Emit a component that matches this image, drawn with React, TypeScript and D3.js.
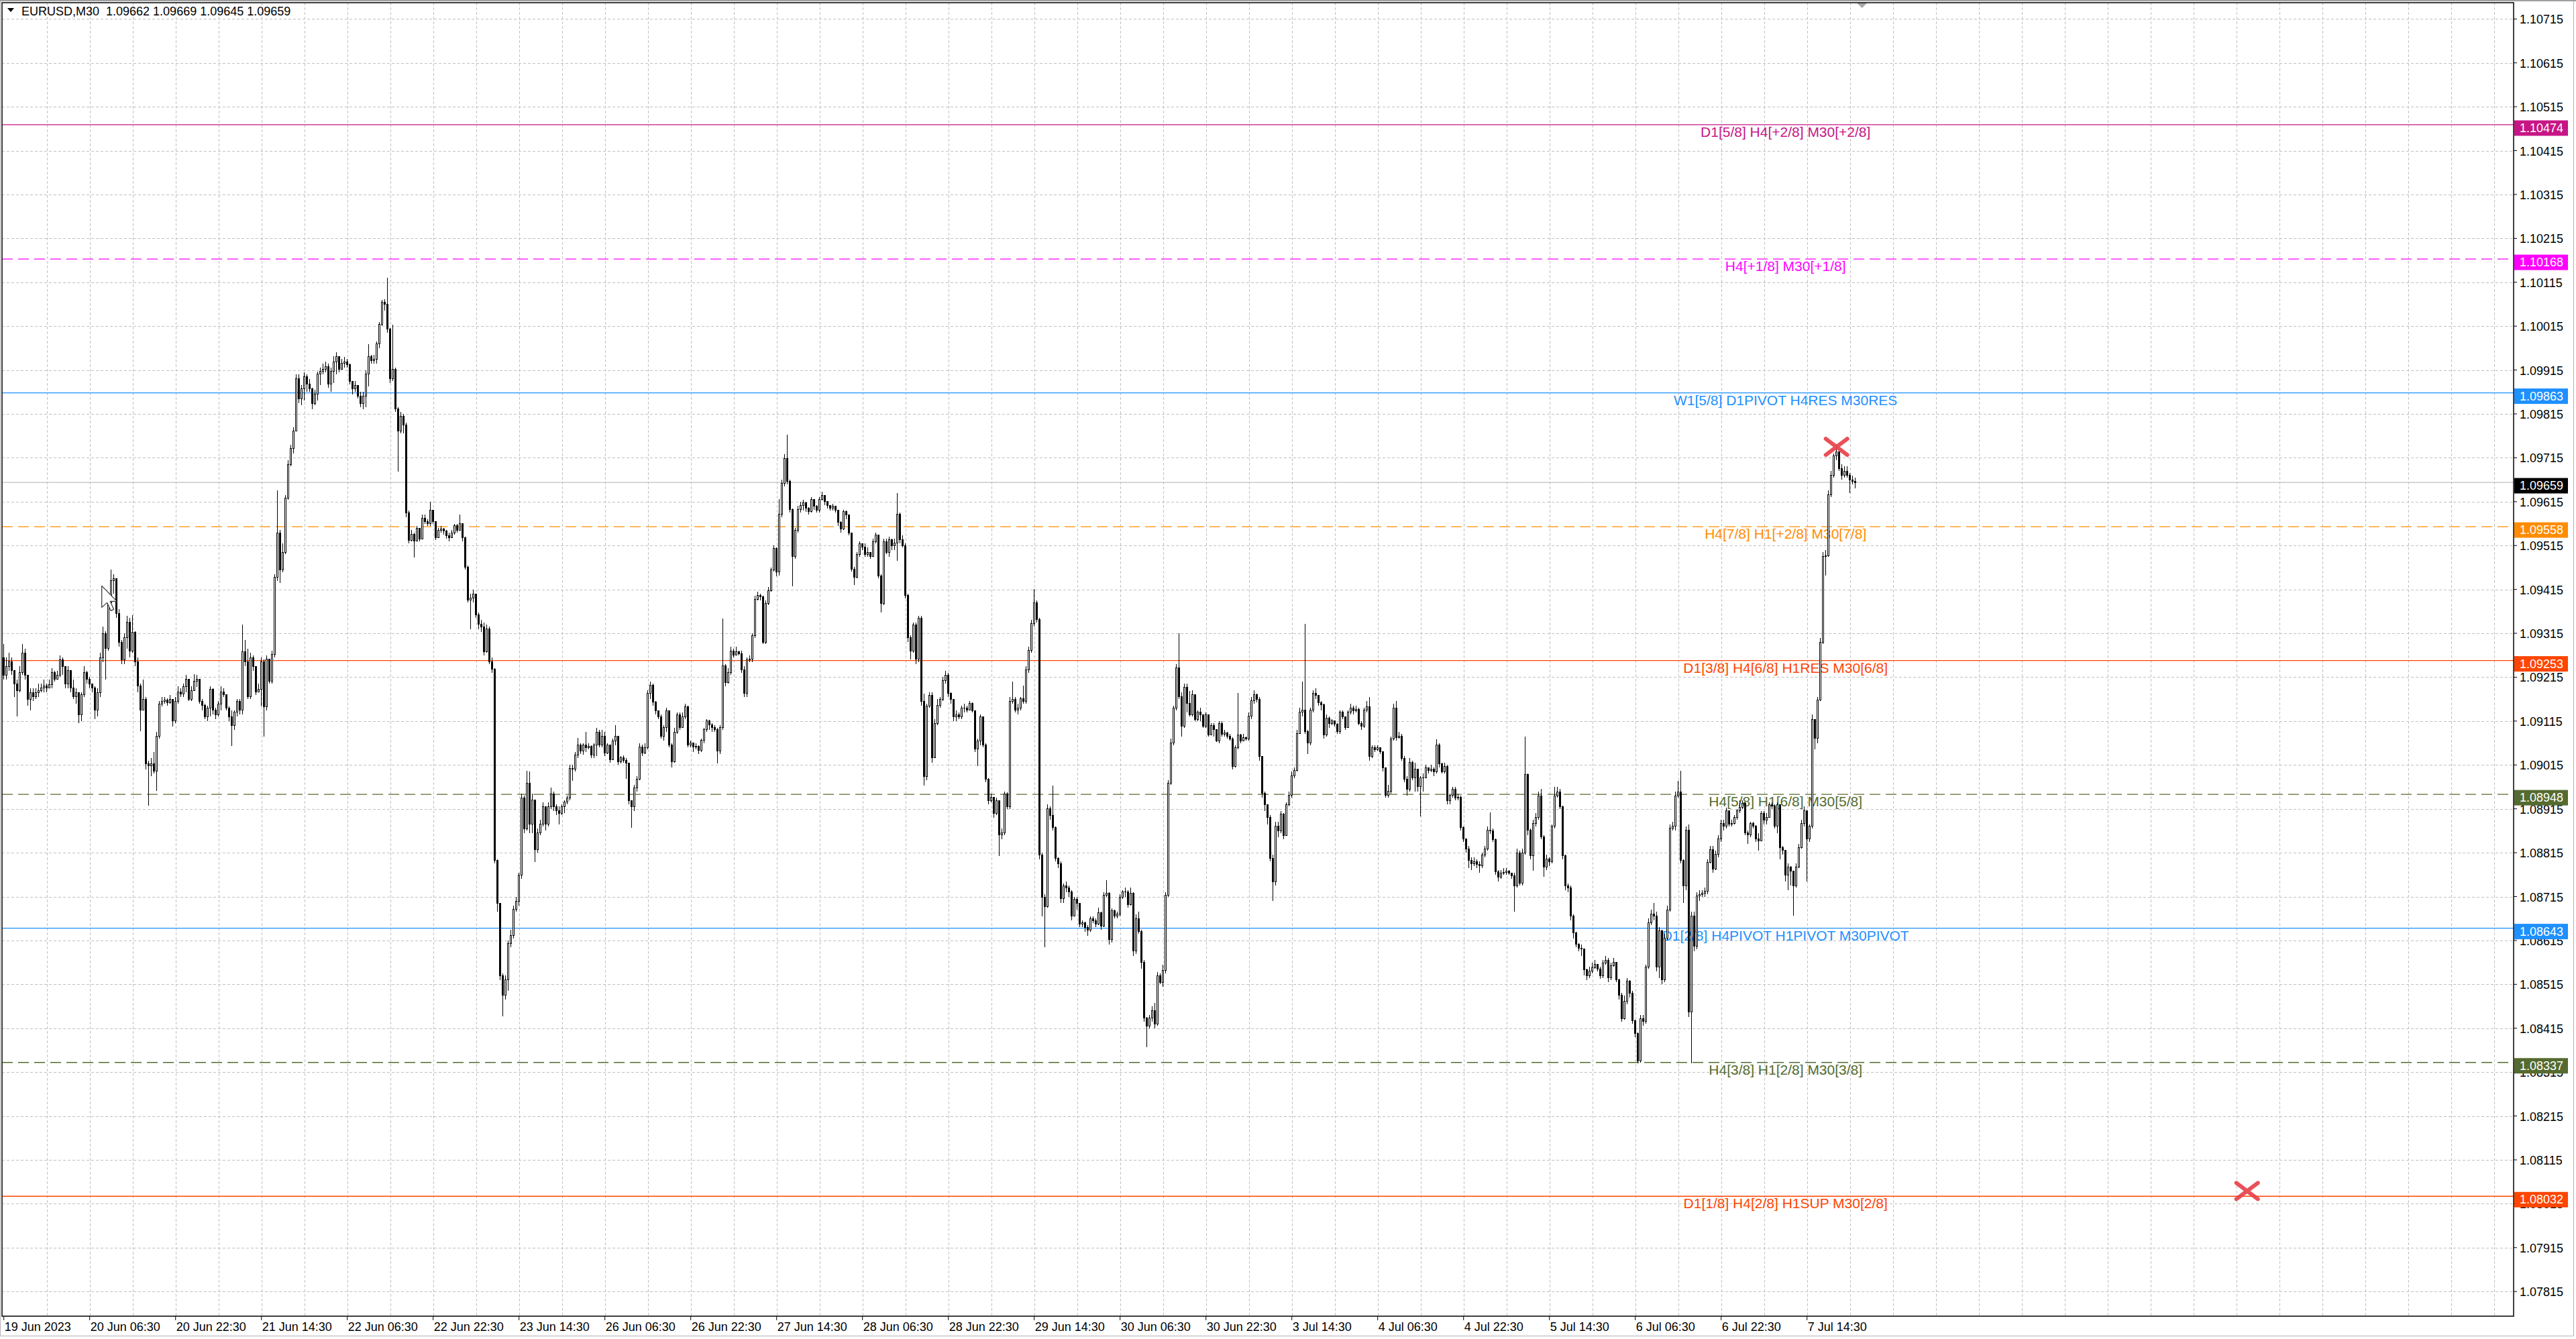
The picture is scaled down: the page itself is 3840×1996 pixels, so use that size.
import React from 'react';
import * as d3 from 'd3';

// ---------- DATA (prices in pips above 1.08000) ----------
const BASE = 1.08;
const OPEN0 = 126;
const CLOSE = [
122,124,125,123,120,118.5,122.5,127,122,116.5,
118,117,118,118.5,119,119.5,119,119.8,122.5,121,
122,125.5,124,120,123,119,117,118,113,117.5,
122.5,121,120,119,114,118,126,131.5,128,138.5,
143.5,144,136,129.5,125.5,130.5,134,127.5,131.8,125,
119.5,114,116.5,101.8,101.3,101.8,100.1,108,115.4,116,
116.3,115.7,116.5,111.5,116,118.2,117.6,119.3,121,116.5,
118.5,120.5,121,116,115,112.5,114.5,118.8,114,113,
115.4,118.2,117.5,114.5,112.5,110.5,113.5,116,114,127.3,
125,117,126,124,118.2,118.8,125,114.8,125.6,120.5,
126.7,144.2,154.4,146,150,162.3,170,173.6,177.6,189.5,
185,187.2,190,188.3,187.2,183.8,186,190.6,191.2,191.7,
192.3,188.3,191.2,193.4,194.6,191.7,193,193.4,192.8,188.9,
187.2,188,185.5,183.8,185.5,190.6,194.6,193.6,194,197.4,
201.9,207,206.5,200.8,189.5,191.7,182.7,177.6,181,179,
158.9,152.7,154,152.5,155.5,153,157.8,157,156.5,159.5,
157,153.3,155,155.3,154.8,153.8,153.3,154.4,156,155,
156.5,153.3,146.5,139.1,139.5,140.5,135.7,133.5,133,127.3,
132.5,125,123.3,79.8,70,53.4,49.1,52.5,60.8,62.7,
68.6,70.5,76.4,93.9,87,97.3,88,93.5,82.2,86.1,
88,92,88,92,94.9,92,91,90.5,92,93,
93.9,100.7,100.5,103.7,106.1,104.6,106,105.5,105.7,103.7,
106,109,106.1,108,104.2,106,102.7,107,108,102.2,
103.2,102.5,102,93.4,92,96.3,98.3,105.6,104.2,105.5,
117.8,119.7,115.9,113.9,112.5,108,110,113.9,106.1,102.2,
109,113,110,112.5,114.8,106.1,106.5,105.6,105.8,104.8,
107.1,109.5,111.5,110.6,110,109.5,104.6,110,124.1,120.2,
122.6,127.5,126.6,127.3,126.8,123.1,117.8,125.5,125.6,131,
139.3,140.2,139.8,129.5,138.3,141.2,146,150.9,145.5,158.7,
165.6,171.4,166.1,159.7,149,154.9,159.7,160.7,161.2,160,
159.2,162,160.5,159.5,162,163,161.5,160.6,160,160.5,
159.5,156.8,155.3,159.2,158.5,154.4,146.1,144.2,149.5,151.9,
151.2,149.5,150,149,152.4,153.9,144.6,138.3,152.4,150,
152.9,151.5,152,158.7,152.9,151.5,140.2,130.5,127.5,133.4,
125.6,135,116,98.8,114.9,117.3,103.2,111,115,116.5,
120.7,122,117.8,116.5,112.4,113,112.5,114.5,114.4,114,
115.5,113.9,105.1,107,112.4,106.1,98.3,93.4,94.2,90.5,
93.4,85.6,86.1,94.9,92,116,116.5,114,114.5,116.6,
116,123.2,127.6,133.7,138.5,134.6,81,71.4,69.2,91.6,
90,87.2,80.2,79,71,74,73.5,72.5,67,70.9,
70,65.2,65.6,64.5,63.9,66.5,66,65.2,67.9,64.8,
71.8,72.3,61.7,68.3,67,67.5,71.4,72.5,72.5,69.6,
72.3,59.1,66.5,63.5,56.5,43.8,42,43.8,45.5,42.5,
53.4,52,54.7,71.8,97.3,106.5,114.4,123.6,117,110.4,
119.2,115.5,113,117.5,111.8,113.5,113,110.4,113,108.3,
110.5,109.5,107,110.9,108.5,108.8,108,107.5,101.2,105.5,
108.3,107,107.8,107.5,112.6,116.1,117.5,116.5,103.4,95.1,
92.4,89.5,80.2,74.9,87.6,86.5,90.3,85.4,92.4,94.6,
99,100.3,108.7,113.5,114,109.1,106.5,114,117.9,117.3,
115.7,115.2,108.3,112.2,111,111.5,110.8,109.1,113.5,112.5,
110,113.5,114.5,113.8,114.2,110.9,110.3,114,114.8,103.4,
105.5,105,105.4,104.5,100.8,94.6,95.5,107.4,114.4,107.8,
108,103,98.2,96,102.1,98.6,100.5,96.5,98.5,98.6,
100.8,100.2,100.5,100,106,101.7,100,101.2,93.3,94.6,
96,94,94.2,87.2,84.6,82.4,79.7,79,79.5,78.8,
78.5,81,82.4,86.7,86.5,84.5,77.1,76,76.8,77,
77.3,76.8,76.2,74,81.5,74.5,81.5,99.3,86.6,80.8,
88.1,89.5,94.4,85.1,78.3,80,79.5,87.6,94.4,95.3,
92,80.8,73.9,73.5,67.1,63.2,60.7,59.8,59.5,54.9,
53.5,54.5,55.3,56,55,53.4,56.3,57,53,55.8,
56.5,52.5,49.1,43.7,47.6,52.2,49.5,43.2,40.3,34,
43.7,43,55.4,65.6,67.6,67.1,55.4,63.7,52.5,62,
68.5,87.1,87.5,94.4,95.3,79.8,73.9,86.6,45.2,67.1,
60.2,71.6,72,72.3,72.8,79.3,82.2,77.8,81.2,84.6,
88.1,87.5,91,88,88.2,89.5,91,91.8,92.8,86.1,
85.5,88.1,87.6,84.6,84.2,90.5,89,89.5,92.5,92.2,
87.6,92.5,82.7,82,76.4,78.3,77.3,73.9,78.3,82.7,
88.1,91,84.6,87.6,111.9,107.6,116.3,129.5,149,149.2,
163.1,167.5,171.9,172.9,169,167.5,168.5,167.5,166.5,166.2,165.9
];
const HIGH = [
129,126,127,126,123,121,124,129,128,122,
119,119,119,120,120,121,120,121,123.5,123,
123,126.4,126,123,124,122,121,119,118,118,
124,123,121.5,120,119.5,119,127,133,132,139,
146,145,141.5,137,130,131.5,135.5,135,135.7,132,
126,120,121,117,102.5,103,104.5,109,116,117,
117,116.7,117.5,116.5,117,119.5,119,120,122,121,
119.5,122.2,122,121,116.5,115.4,115,119.5,119,114.5,
116,119.5,119,117.5,114.8,114,114,116.5,116.5,133.5,
130,128,127,126.5,124,120,126,125.5,126.5,125.5,
127.5,145,164,155,152,163,171,174.5,178.5,190.5,
190.5,188,191,190.5,189.5,187.5,187,191.2,192,193,
193.4,193,192,194.6,195.5,194.6,194,194.5,194,193,
189,189,187.7,186.5,186.5,191.5,197.4,195,195,198,
202.5,207.5,207.7,212.6,201,201.9,192,183,182,181.5,
179.5,159.5,155,154.5,156,155.5,158.5,158.5,157.5,161.5,
159.5,157,155.5,156,155.5,155,154.5,155,156.5,156.5,
158.5,156.5,153.5,147,140.5,141.5,140.5,136.3,134.5,134,
133.5,133,126,123.5,80,70,54,53.5,61.5,64,
69.5,71.5,77,95,94.5,100.2,100,95,93.5,87,
89,93,92,93,96.3,95.5,92.5,92,92.5,93.5,
94.5,101.5,101.5,104.5,107.6,106.5,106.5,109,106.5,106,
106.5,110,109.5,109.5,109,106.5,105.5,107.5,110.5,108,
103.5,103.7,103,102,93.5,97,99,106.5,106.1,106.5,
118.5,120.5,120,116,114,113,110.5,114.5,114,106.5,
110,113.5,113.5,113.5,115.5,115,107,106.5,106.5,106,
107.5,110,112,111.8,111,110.5,110,110.5,134.9,124.5,
123.5,128.5,128,128.5,127.5,127.5,124,126,126.5,131.5,
140,141,140.5,140,139,142,146.5,151.5,151,162.1,
166.5,172.4,176.8,166.5,160,155.5,160.5,161.5,162,161.5,
160.2,162.5,162,160.7,162.5,163.8,163,161.5,160.7,161,
160.5,159.7,157,159.7,159.5,156.5,154.5,146.6,150,152.5,
152,152,151,149.5,153,154.5,154,145,153,153,
153.5,153,153,163.5,159,153.8,152,140.5,131,134,
134,135.5,135.5,117.8,115.5,118,118,112,116.5,117,
121.5,123,122.5,118,116.5,114,113.5,115,115.5,115,
116,115.7,114,107.5,113,112.5,106.5,98.5,95,93.5,
94,89.5,87,95.5,95.2,117,120.5,117,115.5,117,
119.6,124,128.5,134.5,141.6,139,135,81.5,72,92.5,
92,96.8,87.5,80.5,79.5,74.5,75,74,73,71.5,
71.5,70,66,65.8,65,67,67,66.5,69,68,
72.5,75.3,72.5,68.8,68.5,68,72,73,73.5,73,
73.5,72.5,67.5,68,64,57,44,44.5,46.5,47.3,
54.3,54,56,72.5,98,107.5,115,124.5,131.5,118,
120,120,118.3,118.5,117.5,114,114.5,113,113.5,113,
111,111,109,111.5,111.5,109.5,109,108.5,107.8,106,
117.9,108.5,108.5,108,113.5,117,118.5,117.8,117,103.5,
95.5,92.5,90,81,88.5,88.5,91,90.5,93,95.5,
100,101,109.5,114.5,120.5,133.7,109.5,114.5,118.5,119,
117.5,116,115.5,113,112.5,112,111.5,111,114,114,
112.5,114,115.5,115,115,114.5,111.5,114.5,116,117,
106,106,106,105.5,104.5,101,97,108,115.5,116,
109,108.5,103.5,99,103,102.5,102,100.5,99,99.5,
101.5,101,101.5,101,107.4,106.5,102,102,101.5,95,
96.5,96.5,95,94.5,87.5,84.6,83,80.5,80.5,80,
79.5,81.5,83,87.5,90.7,87,84.8,77.5,77.5,78,
78,77.5,77,77,82.5,82,82.5,108,99.5,87,
89,90.5,95.5,96,85.5,81,80.5,88,96.5,96.5,
96,92.2,81,74.5,74,67.5,63.5,60.8,60.5,59.5,
55,55.5,56.5,57,56,55.5,57,58,57.5,56.5,
57.5,56.5,52.8,49.5,49,53,52.5,50,43.5,40.5,
44.5,44.5,56,66.5,68.5,70,68,64.5,64,63,
69.5,88,88.5,95.5,97.8,100.2,80,87.5,88,68,
68,72.5,73,73,73.5,80,83,83,82,85.5,
89,89,91.8,91,89,90,91.5,93.5,93.5,93,
86.5,88.5,88.5,87.8,86,91,91,90.5,93,93,
92.5,93,92.5,83,82,79,78.5,77,79,83.5,
89,92,91,88,113,112,117,130.5,150,150.5,
164,168.5,172.5,174.4,173,170,169.5,169.5,168,167.5,166.9
];
const LOW = [
121,121,123,122,117,112.5,118,122,121,115,
114,116,116.5,117,118,118,118,119,119,120.5,
121,121.5,122,119,119,118,116.5,115.4,111,111.5,
117,120,119,118,112,112.5,117,125,121,127.5,
138,140.5,135,128.5,124.5,124.5,128,126,127,124,
118,109.2,114,100.5,92.2,99,99.5,95.6,107.5,114.8,
115.5,115,115.5,110.3,111,115.5,117,117,118,116,
116,118.5,119.3,115.5,114,112,111.5,112.5,113,112,
112.5,114,117,114,111.5,105.8,109.5,112.5,113,113,
124,116.5,116.5,123,117.5,118,114.8,108,114,120,
120,126,143.5,143,145.4,149.5,162,169.5,172.5,177.5,
184,183.5,184.5,186.5,186.5,182.5,183.5,184.5,188,190.5,
191,187.5,186.5,188.5,190.5,191,192,192,192,188.3,
186,186.6,185,183,182.5,183,187.7,193,193,193,
196.5,201.5,205,200,188.5,189,182,168.3,177,177,
158,152,152.5,148.8,152.5,152.5,153,156.5,156,156,
156.5,152.7,154,154.5,154,153,152.5,153.5,154,154.5,
155,152.5,146,138.5,132.4,138.5,135,132.5,131.8,126.5,
127,124.5,122.5,79,68,52.5,44.2,48,50,60,
62,68,69.5,75.5,86,86.5,86,86,79.3,81.5,
85.5,87.5,86.5,87.5,91.5,91,90,88,90,90.5,
92.5,93.5,97.8,100,103,104,103.8,104.5,105,103,
103,103.5,105.5,105.5,103.5,104,102,103,106,101.5,
101.8,102,98.3,92.5,87.1,91,95.5,98,103.5,104,
105,116.5,115,113,112,107.5,107,109,105.5,101,
102,108.5,109.5,110,112,105.5,105.5,104.5,105,104,
104.5,106.5,109,109.5,109,109,101.8,104,109.5,119.5,
120,122,126,126.5,126.5,122.5,117,117,125,125,
130.5,139,139,129,129,138,141,145.5,144.5,144.6,
158,165,165.5,159,142.2,148.5,154.5,159,159.5,159.2,
158.5,159,159.7,159,159,161.8,160.7,160,159.5,159.5,
159,156,154.5,155,157.5,153.8,145.5,142.5,144,148.9,
150.5,148.9,148.9,148.5,149,152,144,136.3,138,149.5,
149,150.5,150.5,148,152,151,139.5,129.5,125.5,127,
124.5,125,115,96.8,98,114.5,102,103,110.5,114.5,
116,120,117,115.5,111.5,111.5,112,112,113.5,113.5,
114,113.5,104.5,101.2,106,105.5,97.5,92.5,93,89.5,
90,80.8,84.5,85.5,91.5,91.5,115.5,113.5,113,114,
115.5,115.5,122.5,127,133,134,80,67,60,69,
89,86.5,79.5,78,70,70,72.5,71.5,66,67,
68.5,64.5,64.5,63.5,62.5,63.5,65.5,64.5,65,64,
64.5,71.5,60.5,61,66.5,66.5,67,71,71.5,69,
69.4,58,58.5,63,55,43,37.2,41.5,43,41.5,
42,51.5,51,54,71.5,97,106,114,116.5,108,
110,113.5,112.5,112.5,111.5,111.5,111.5,110,110,108,
108.5,108,106.8,106.5,108,108,107.5,107,100.5,101,
105,106.5,107,107,107,112,115.5,115.8,102.5,94,
91,88,79.5,70.5,74,85,86,84.5,85.5,92,
94,98.5,100,108.5,112.5,108.5,104,106,113.5,116.5,
115,114,107.5,108,110,110.5,110.3,108.5,108.5,112,
109.5,110,113,113,113.5,110.5,109.5,110,113.5,102.5,
103,104.5,104.8,104,100,94,94,95,107,107,
107.5,102.5,97.5,94.5,95.5,98,95.5,95.5,89.8,95.5,
98.5,99.5,99.8,99,99.5,101,99.5,99.5,92.5,92.5,
94,93.5,93.5,86.5,84,81.5,78,77.5,78.5,78,
77,78,80.5,82,85.8,84,76.5,75,75.5,76.5,
76.5,76.5,75.5,68,73.5,74,74,81,85.5,80,
77.4,87.5,89,84.5,76,77.5,78.5,79,87,94,
91.5,80,73,72.5,66,62,60,59,58,53.5,
52.5,53,54,55,54.5,52.8,53,56,52,52.5,
55.5,52,48,43,43.5,47,48.5,42.5,39.5,33.5,
33.7,42,42.5,55,65,66,54.5,53,51.5,52,
61.5,68,86.5,86.5,94,79,70,73,44,33.5,
59,59.5,70.5,71.5,71.5,72,79,77,77.5,80.5,
84,86.5,87,87.5,87.5,88,89,90.5,91.5,85.5,
83.5,85,87,84,82,85,88,88,90,91.5,
87,86,80,81,75,73,74,67.1,73.5,78,
82.5,87.5,74.9,84,87,105,106.5,116,129,144.6,
149,162.5,167,171,168.5,166.5,167,167,163.5,165.5,164.5
];

const PRICE_TICKS = [
1.07815,1.07915,1.08015,1.08115,1.08215,1.08315,1.08415,1.08515,1.08615,1.08715,
1.08815,1.08915,1.09015,1.09115,1.09215,1.09315,1.09415,1.09515,1.09615,1.09715,
1.09815,1.09915,1.10015,1.10115,1.10215,1.10315,1.10415,1.10515,1.10615,1.10715
];
const TIME_LABELS = [
'19 Jun 2023','20 Jun 06:30','20 Jun 22:30','21 Jun 14:30','22 Jun 06:30','22 Jun 22:30',
'23 Jun 14:30','26 Jun 06:30','26 Jun 22:30','27 Jun 14:30','28 Jun 06:30','28 Jun 22:30',
'29 Jun 14:30','30 Jun 06:30','30 Jun 22:30','3 Jul 14:30','4 Jul 06:30','4 Jul 22:30',
'5 Jul 14:30','6 Jul 06:30','6 Jul 22:30','7 Jul 14:30'
];
const TIME_LABEL_STEP = 32; // bars between time labels
const GRID_STEP = 16; // bars between vertical grid lines

const LEVEL_PRICES = [1.10474,1.10168,1.09863,1.09558,1.09253,1.08948,1.08643,1.08337,1.08032];
const LEVEL_COLORS = ['#C71585','#FF00FF','#1E90FF','#FF8C00','#FF4500','#556B2F','#1E90FF','#556B2F','#FF4500'];
const LEVEL_DASHED = [false,true,false,true,false,true,false,true,false];
const LEVEL_TEXTS = [
'D1[5/8] H4[+2/8] M30[+2/8]',
'H4[+1/8] M30[+1/8]',
'W1[5/8] D1PIVOT H4RES M30RES',
'H4[7/8] H1[+2/8] M30[7/8]',
'D1[3/8] H4[6/8] H1RES M30[6/8]',
'H4[5/8] H1[6/8] M30[5/8]',
'D1[2/8] H4PIVOT H1PIVOT M30PIVOT',
'H4[3/8] H1[2/8] M30[3/8]',
'D1[1/8] H4[2/8] H1SUP M30[2/8]'
];
const BID = 1.09659;
const MARK_BARS = [683, 836];
const MARK_PRICES = [1.0974, 1.08044];
const HEADER = 'EURUSD,M30  1.09662 1.09669 1.09645 1.09659';
const LABEL_BAR = 664; // bar where level captions are centred
const CURSOR_BAR = 36.5; // mouse pointer left on the chart
const CURSOR_PRICE = 1.09423;

// ---------- LAYOUT ----------
const W = 3840, H = 1996;
const PL = 3, PT = 4, PR = 3747, PB = 1962;
const FONT = "'Liberation Sans', Arial, sans-serif";

export default function App() {
  const n = CLOSE.length;
  const x = d3.scaleLinear().domain([0, n - 1]).range([5.7, 5.7 + 4 * (n - 1)]);
  const y = d3.scaleLinear().domain([1.07815, 1.10715]).range([1925.2, 28.3]);
  const P = (v: number) => BASE + v / 10000;

  const gridBars = d3.range(GRID_STEP, 1000, GRID_STEP).filter((b) => x(b) < PR - 5);
  const labelBars = TIME_LABELS.map((_, k) => k * TIME_LABEL_STEP);

  const candles = CLOSE.map((c, i) => {
    const o = i === 0 ? OPEN0 : CLOSE[i - 1];
    const h = Math.max(HIGH[i], o, c);
    const l = Math.min(LOW[i], o, c);
    return { i, o: P(o), h: P(h), l: P(l), c: P(c) };
  });

  const curX = x(CURSOR_BAR), curY = y(CURSOR_PRICE);

  return (
    <svg width={W} height={H} viewBox={`0 0 ${W} ${H}`} style={{ position: 'absolute', left: 0, top: 0, display: 'block', background: '#fff' }}>
      <rect x={0} y={0} width={W} height={H} fill="#ffffff" />
      <rect x={0.5} y={0.5} width={W - 4} height={H - 5} fill="none" stroke="#b4b4b4" strokeWidth={1} />
      <line x1={0} x2={W} y1={1} y2={1} stroke="#a0a0a0" strokeWidth={2} />

      {/* grid */}
      <g stroke="#c0c0c0" strokeWidth={1} strokeDasharray="4,3" shapeRendering="crispEdges">
        {PRICE_TICKS.map((p) => (
          <line key={'h' + p} x1={PL} x2={PR} y1={Math.round(y(p)) + 0.5} y2={Math.round(y(p)) + 0.5} />
        ))}
        {gridBars.map((b) => (
          <line key={'v' + b} x1={Math.round(x(b)) + 0.5} x2={Math.round(x(b)) + 0.5} y1={PT} y2={PB} />
        ))}
      </g>

      {/* level lines */}
      {LEVEL_PRICES.map((p, k) => (
        <line key={'lv' + k} x1={PL} x2={PR} y1={y(p)} y2={y(p)} stroke={LEVEL_COLORS[k]} strokeWidth={1.3}
          strokeDasharray={LEVEL_DASHED[k] ? '16,8' : undefined} />
      ))}
      {/* bid line */}
      <line x1={PL} x2={PR} y1={y(BID)} y2={y(BID)} stroke="#c0c0c0" strokeWidth={1.2} />

      {/* level captions */}
      {LEVEL_PRICES.map((p, k) => (
        <text key={'lt' + k} x={x(LABEL_BAR)} y={y(p) + 18} fill={LEVEL_COLORS[k]} fontFamily={FONT} fontSize={21} textAnchor="middle">
          {LEVEL_TEXTS[k]}
        </text>
      ))}

      {/* candles */}
      <g shapeRendering="crispEdges">
        {candles.map((d) => {
          const cx = x(d.i);
          const yo = y(d.o), yc = y(d.c);
          const top = Math.min(yo, yc), bot = Math.max(yo, yc);
          return (
            <g key={d.i}>
              <line x1={cx} x2={cx} y1={y(d.h)} y2={y(d.l)} stroke="#000" strokeWidth={1} />
              {d.c === d.o ? (
                <line x1={cx - 1.5} x2={cx + 1.5} y1={yc} y2={yc} stroke="#000" strokeWidth={1} />
              ) : (
                <rect x={cx - 1} y={top} width={2} height={Math.max(bot - top, 0.5)}
                  fill={d.c > d.o ? '#ffffff' : '#000000'} stroke="#000" strokeWidth={1} />
              )}
            </g>
          );
        })}
      </g>

      {/* red cross marks */}
      {MARK_BARS.map((b, k) => {
        const cx = x(b);
        const cy = y(MARK_PRICES[k]);
        return (
          <g key={'m' + k} stroke="#e8424a" strokeWidth={6} strokeLinecap="round" opacity={0.92}>
            <line x1={cx - 16} y1={cy - 12} x2={cx + 16} y2={cy + 12} />
            <line x1={cx - 16} y1={cy + 12} x2={cx + 16} y2={cy - 12} />
          </g>
        );
      })}

      {/* mouse pointer */}
      <path transform={`translate(${curX},${curY}) scale(2)`}
        d="M0,0 L0,16 L4,12.5 L6.8,18.5 L9,17.5 L6.3,11.5 L11.3,11.5 Z"
        fill="#ffffff" stroke="#333" strokeWidth={0.6} strokeLinejoin="round" />

      {/* chart shift marker */}
      <path d={`M${x(n - 1) + 2},${PT} L${x(n - 1) + 18},${PT} L${x(n - 1) + 10},${PT + 8} Z`} fill="#a8a8a8" />

      {/* frame */}
      <rect x={PL} y={PT} width={PR - PL} height={PB - PT} fill="none" stroke="#000" strokeWidth={1.5} />

      {/* right axis */}
      <g fontFamily={FONT} fontSize={18}>
        {PRICE_TICKS.map((p) => (
          <g key={'t' + p}>
            <line x1={PR} x2={PR + 5} y1={y(p)} y2={y(p)} stroke="#000" strokeWidth={1} />
            <text x={3756} y={y(p) + 1} dominantBaseline="central" fill="#000">{p.toFixed(5)}</text>
          </g>
        ))}
        {LEVEL_PRICES.map((p, k) => (
          <g key={'lb' + k}>
            <rect x={PR + 1} y={y(p) - 6.5} width={80} height={23} fill={LEVEL_COLORS[k]} />
            <text x={3756} y={y(p) + 5} dominantBaseline="central" fill="#fff">{p.toFixed(5)}</text>
          </g>
        ))}
        <rect x={PR + 1} y={y(BID) - 6.5} width={80} height={23} fill="#000" />
        <text x={3756} y={y(BID) + 5} dominantBaseline="central" fill="#fff">{BID.toFixed(5)}</text>
      </g>

      {/* bottom axis */}
      <g fontFamily={FONT} fontSize={18}>
        {labelBars.map((b, k) => (
          <g key={'b' + k}>
            <line x1={x(b)} x2={x(b)} y1={PB} y2={PB + 6} stroke="#000" strokeWidth={1} />
            <text x={x(b) + 1} y={1978} dominantBaseline="central" fill="#000">{TIME_LABELS[k]}</text>
          </g>
        ))}
      </g>

      {/* header */}
      <path d="M11,12 L21,12 L16,18 Z" fill="#000" />
      <text x={32} y={17} dominantBaseline="central" fontFamily={FONT} fontSize={18} fill="#000" style={{ whiteSpace: 'pre' }}>
        {HEADER}
      </text>
    </svg>
  );
}
